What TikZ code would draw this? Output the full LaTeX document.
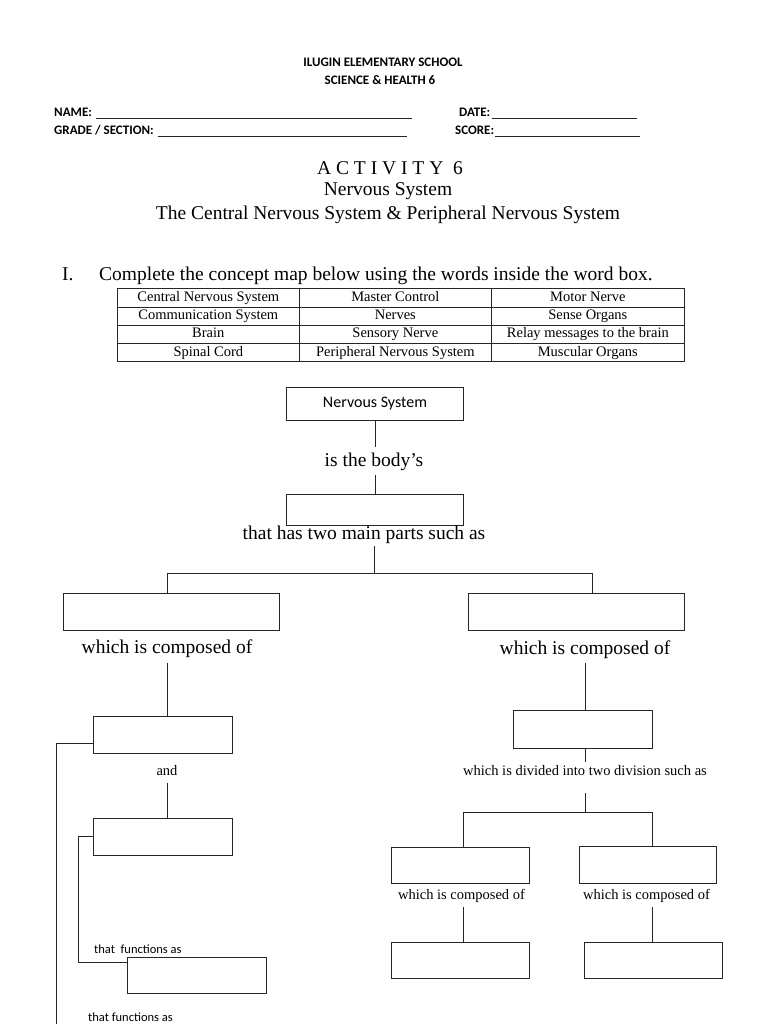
\documentclass[tikz,border=0pt]{standalone}
\usepackage{fontspec}
\setmainfont{Liberation Serif}
\newfontfamily\calfont{Carlito}
\newfontfamily\spacedfont[LetterSpace=25]{Liberation Serif}
\usetikzlibrary{matrix}
\begin{document}
\begin{tikzpicture}[x=1pt,y=-1pt,
  ln/.style={line width=0.9pt, draw=black!85},
  uline/.style={line width=0.6pt, draw=black!85},
  blank/.style={draw=black!85, line width=0.9pt, rectangle, inner sep=0pt},
  hdr/.style={font=\calfont\bfseries\fontsize{13}{15}\selectfont, inner sep=0pt},
  big/.style={font=\fontsize{19.5}{22}\selectfont, inner sep=0pt},
  small/.style={font=\fontsize{14.5}{16}\selectfont, inner sep=0pt},
  cal/.style={font=\calfont\fontsize{12.5}{14}\selectfont, inner sep=0pt},
]
\useasboundingbox (0,0) rectangle (768,1024);
\clip (0,0) rectangle (768,1024);
\fill[white] (0,0) rectangle (768,1024);

% header
\node[hdr, anchor=base] (school) at (383,67) {ILUGIN ELEMENTARY SCHOOL};
\node[hdr, anchor=base] (subj) at (380,85) {SCIENCE \& HEALTH 6};
\node[hdr, anchor=base west] (name) at (54,117) {NAME:};
\draw[uline] ([xshift=4pt,yshift=-1.5pt]name.base east) -- (412,118.5);
\node[hdr, anchor=base west] (grade) at (54,135) {GRADE / SECTION:};
\draw[uline] ([xshift=4pt,yshift=-1.5pt]grade.base east) -- (407,136.5);
\node[hdr, anchor=base west] (date) at (459,117) {DATE:};
\draw[uline] ([xshift=1pt,yshift=-1.5pt]date.base east) -- (637,118.5);
\node[hdr, anchor=base west] (score) at (455,135) {SCORE:};
\draw[uline] ([xshift=1pt,yshift=-1.5pt]score.base east) -- (640,136.5);

% titles
\node[anchor=base, inner sep=0pt, font=\spacedfont\fontsize{19.5}{22}\selectfont] (act) at (390,175) {ACTIVITY 6};
\node[big, anchor=base] (t1) at (388,196) {Nervous System};
\node[big, anchor=base] (t2) at (388,220) {The Central Nervous System \& Peripheral Nervous System};
\node[big, anchor=base west] (roman) at (62,280) {I.};
\node[big, anchor=base west] (instr) at (99,280) {Complete the concept map below using the words inside the word box.};

% word box
\matrix (wb) [matrix of nodes, anchor=north west, inner sep=0pt, column sep=-0.8pt, row sep=-0.8pt,
  nodes={draw=black!85, line width=0.8pt, minimum height=18.3pt, inner sep=0pt,
         text height=10pt, text depth=3pt, font=\fontsize{14.5}{16}\selectfont, anchor=center},
  column 1/.style={nodes={minimum width=181.5pt}},
  column 2/.style={nodes={minimum width=192.5pt}},
  column 3/.style={nodes={minimum width=192.5pt}}]
  at (117,288) {
  Central Nervous System & Master Control & Motor Nerve\\
  Communication System & Nerves & Sense Organs\\
  Brain & Sensory Nerve & Relay messages to the brain\\
  Spinal Cord & Peripheral Nervous System & Muscular Organs\\
};

% concept map
\node[blank, minimum width=177pt, minimum height=33pt, font=\calfont\fontsize{16}{18}\selectfont] (ns) at (375,404) {Nervous System};
\node[big, anchor=base, inner ysep=5pt] (body) at (374,466) {is the body’s};
\node[blank, minimum width=177pt, minimum height=31pt] (mc) at (375,509.5) {};
\node[big, anchor=base, inner ysep=2pt] (parts) at (364,539.5) {that has two main parts such as};
\draw[ln] (ns.south) -- (ns.south |- body.north);
\draw[ln] (body.south -| mc.north) -- (mc.north);

\coordinate (jt) at (374,573);
\coordinate (jl) at (167,573);
\coordinate (jr) at (592,573);
\node[blank, minimum width=216pt, minimum height=37pt] (cns) at (171,611.5) {};
\node[blank, minimum width=216pt, minimum height=37pt] (pns) at (576,611.5) {};
\draw[ln] (parts.south -| jt) -- (jt);
\draw[ln] (jl) -- (jr);
\draw[ln] (jl) -- (jl |- cns.north);
\draw[ln] (jr) -- (jr |- pns.north);

% left branch
\node[big, anchor=base, inner ysep=6pt] (comp1) at (167,653) {which is composed of};
\node[blank, minimum width=139pt, minimum height=37pt] (brain) at (162.5,734.5) {};
\draw[ln] (comp1.south) -- (comp1.south |- brain.north);
\node[small, anchor=base] (and) at (167,775) {and};
\node[blank, minimum width=139pt, minimum height=37pt] (cord) at (162.5,836.5) {};
\draw[ln] ([yshift=-8pt]and.south) -- (and.south |- cord.north);
\node[blank, minimum width=139pt, minimum height=36pt] (relay) at (196.5,975) {};
\node[cal, anchor=base west] (func1) at (94,953) {that\ \ functions as};
\node[cal, anchor=base west] (func2) at (88,1021.5) {that functions as};
\draw[ln] ([yshift=-8.5pt]brain.west) -- ++(-36,0) -- ++(0,340);
\draw[ln] (cord.west) -- ++(-14,0) |- ([yshift=13pt]relay.west);

% right branch
\node[big, anchor=base, inner ysep=5pt] (comp2) at (585,654) {which is composed of};
\node[blank, minimum width=139pt, minimum height=38pt] (nerves) at (582.5,729) {};
\draw[ln] (comp2.south) -- (comp2.south |- nerves.north);
\node[small, anchor=base, inner ysep=2.5pt] (div) at (585,775) {which is divided into two division such as};
\draw[ln] (nerves.south -| div.north) -- (div.north);
\coordinate (jd) at (585,812);
\coordinate (jdl) at (463,812);
\coordinate (jdr) at (652,812);
\draw[ln] ([yshift=-15pt]div.south) -- (jd);
\node[blank, minimum width=138pt, minimum height=36pt] (sens) at (460,865) {};
\node[blank, minimum width=137pt, minimum height=37pt] (mot) at (647.5,864.5) {};
\draw[ln] (jdl) -- (jdr);
\draw[ln] (jdl) -- (jdl |- sens.north);
\draw[ln] (jdr) -- (jdr |- mot.north);
\node[small, anchor=base, inner ysep=5pt] (comp3) at (461.5,899) {which is composed of};
\node[small, anchor=base, inner ysep=5pt] (comp4) at (646.5,899) {which is composed of};
\node[blank, minimum width=138pt, minimum height=36pt] (so) at (460,960) {};
\node[blank, minimum width=138pt, minimum height=36pt] (mo) at (653,960) {};
\draw[ln] (comp3.south -| jdl) -- (jdl |- so.north);
\draw[ln] (comp4.south -| jdr) -- (jdr |- mo.north);
\end{tikzpicture}
\end{document}
